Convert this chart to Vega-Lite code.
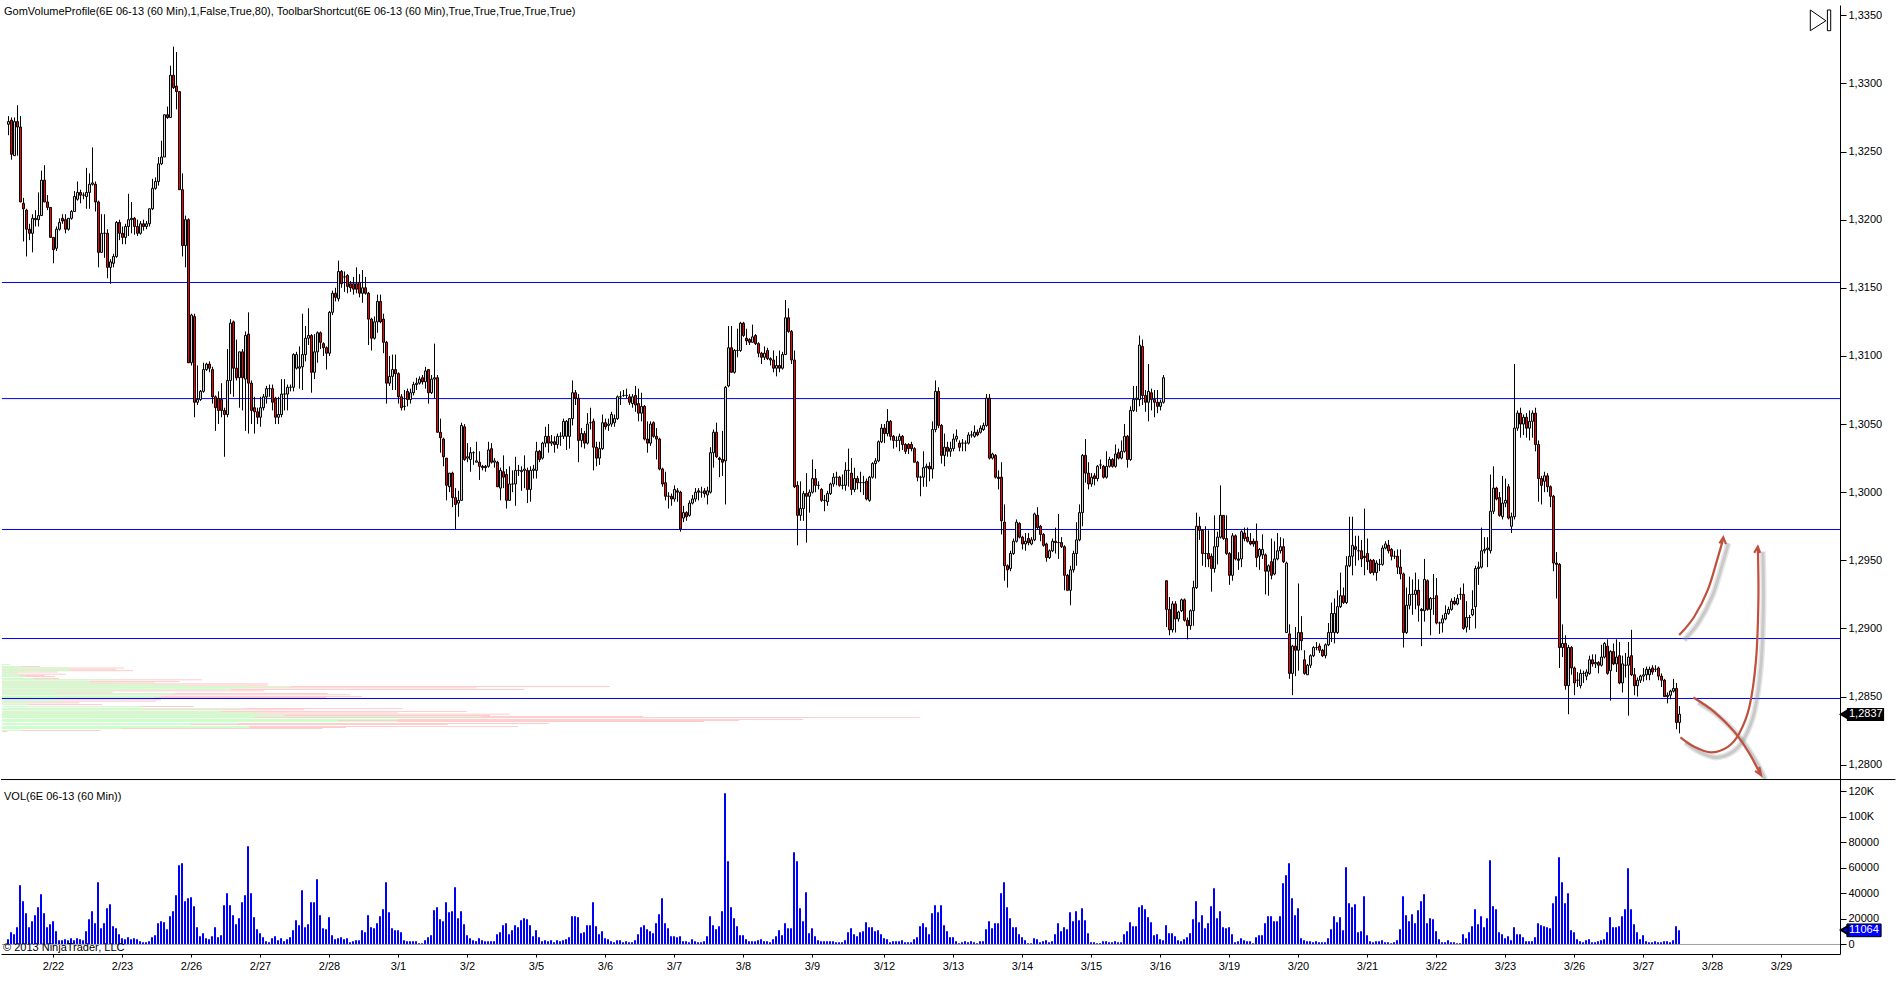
{"$schema":"https://vega.github.io/schema/vega-lite/v6.json","background":"white","padding":{"left":0,"top":5,"right":0,"bottom":0},"autosize":{"type":"pad"},"spacing":0,"bounds":"flush",
"config":{"view":{"stroke":null},"text":{"font":"Liberation Sans","fontSize":11},"axis":{"grid":false,"title":null,"domainColor":"#000","tickColor":"#000","labelColor":"#000","labelFont":"Liberation Sans","labelFontSize":11,"labelOverlap":false,"labelFlush":false}},
"datasets":{
"bars":[
{"t":0,"o":13270,"h":13276,"l":13262,"c":13272,"v":3.9},{"t":1,"o":13273,"h":13275,"l":13244,"c":13248,"v":9.4},{"t":2,"o":13247,"h":13275,"l":13247,"c":13272,"v":7.8},{"t":3,"o":13272,"h":13284,"l":13247,"c":13268,"v":13.3},{"t":4,"o":13268,"h":13276,"l":13213,"c":13213,"v":46.2},{"t":5,"o":13212,"h":13216,"l":13184,"c":13208,"v":33.7},{"t":6,"o":13207,"h":13208,"l":13173,"c":13193,"v":24.3},{"t":7,"o":13193,"h":13197,"l":13185,"c":13190,"v":13.3},{"t":8,"o":13190,"h":13204,"l":13176,"c":13201,"v":18},{"t":9,"o":13201,"h":13207,"l":13195,"c":13200,"v":22.7},
{"t":10,"o":13200,"h":13220,"l":13195,"c":13203,"v":29},{"t":11,"o":13203,"h":13236,"l":13203,"c":13229,"v":39.2},{"t":12,"o":13229,"h":13240,"l":13213,"c":13213,"v":24.3},{"t":13,"o":13213,"h":13218,"l":13207,"c":13209,"v":13.3},{"t":14,"o":13209,"h":13209,"l":13187,"c":13187,"v":15.7},{"t":15,"o":13187,"h":13187,"l":13168,"c":13178,"v":18},{"t":16,"o":13179,"h":13195,"l":13177,"c":13193,"v":10.2},{"t":17,"o":13193,"h":13201,"l":13192,"c":13198,"v":3.1},{"t":18,"o":13201,"h":13204,"l":13197,"c":13199,"v":3.1},{"t":19,"o":13200,"h":13204,"l":13190,"c":13193,"v":3.9},
{"t":20,"o":13193,"h":13201,"l":13192,"c":13201,"v":3.1},{"t":21,"o":13201,"h":13207,"l":13200,"c":13206,"v":4.7},{"t":22,"o":13206,"h":13221,"l":13206,"c":13217,"v":3.1},{"t":23,"o":13215,"h":13228,"l":13214,"c":13220,"v":4.7},{"t":24,"o":13220,"h":13222,"l":13212,"c":13218,"v":3.9},{"t":25,"o":13218,"h":13220,"l":13215,"c":13218,"v":3.1},{"t":26,"o":13217,"h":13238,"l":13208,"c":13220,"v":10.2},{"t":27,"o":13220,"h":13234,"l":13208,"c":13226,"v":19.6},{"t":28,"o":13226,"h":13253,"l":13225,"c":13227,"v":25.8},{"t":29,"o":13226,"h":13228,"l":13206,"c":13213,"v":16.4},
{"t":30,"o":13213,"h":13214,"l":13165,"c":13176,"v":48.5},{"t":31,"o":13176,"h":13204,"l":13176,"c":13190,"v":12.5},{"t":32,"o":13190,"h":13204,"l":13172,"c":13190,"v":16.4},{"t":33,"o":13190,"h":13193,"l":13157,"c":13165,"v":28.2},{"t":34,"o":13165,"h":13171,"l":13153,"c":13169,"v":31.3},{"t":35,"o":13168,"h":13175,"l":13165,"c":13173,"v":14.1},{"t":36,"o":13173,"h":13199,"l":13172,"c":13198,"v":12.5},{"t":37,"o":13198,"h":13200,"l":13185,"c":13190,"v":7.8},{"t":38,"o":13190,"h":13195,"l":13182,"c":13187,"v":4.7},{"t":39,"o":13187,"h":13197,"l":13182,"c":13195,"v":3.9},
{"t":40,"o":13195,"h":13219,"l":13188,"c":13200,"v":5.5},{"t":41,"o":13200,"h":13213,"l":13190,"c":13201,"v":3.9},{"t":42,"o":13201,"h":13202,"l":13189,"c":13195,"v":4.7},{"t":43,"o":13195,"h":13200,"l":13188,"c":13190,"v":3.9},{"t":44,"o":13190,"h":13199,"l":13189,"c":13197,"v":2.3},{"t":45,"o":13197,"h":13200,"l":13192,"c":13195,"v":1.6},{"t":46,"o":13195,"h":13199,"l":13193,"c":13197,"v":1.6},{"t":47,"o":13197,"h":13208,"l":13195,"c":13208,"v":2.3},{"t":48,"o":13208,"h":13230,"l":13207,"c":13223,"v":5.5},{"t":49,"o":13223,"h":13231,"l":13222,"c":13228,"v":7},
{"t":50,"o":13228,"h":13246,"l":13225,"c":13241,"v":16.4},{"t":51,"o":13241,"h":13258,"l":13240,"c":13246,"v":18},{"t":52,"o":13246,"h":13277,"l":13246,"c":13277,"v":17.2},{"t":53,"o":13277,"h":13283,"l":13274,"c":13275,"v":11.7},{"t":54,"o":13275,"h":13313,"l":13275,"c":13306,"v":21.9},{"t":55,"o":13306,"h":13327,"l":13296,"c":13297,"v":25.8},{"t":56,"o":13298,"h":13323,"l":13281,"c":13294,"v":38.4},{"t":57,"o":13294,"h":13294,"l":13222,"c":13222,"v":61.9},{"t":58,"o":13222,"h":13234,"l":13173,"c":13181,"v":63.4},{"t":59,"o":13181,"h":13203,"l":13165,"c":13200,"v":33.7},
{"t":60,"o":13200,"h":13201,"l":13095,"c":13095,"v":36},{"t":61,"o":13095,"h":13131,"l":13093,"c":13130,"v":36.8},{"t":62,"o":13129,"h":13131,"l":13055,"c":13066,"v":29.8},{"t":63,"o":13066,"h":13093,"l":13064,"c":13068,"v":13.3},{"t":64,"o":13068,"h":13075,"l":13067,"c":13074,"v":6.3},{"t":65,"o":13074,"h":13095,"l":13073,"c":13090,"v":8.6},{"t":66,"o":13090,"h":13095,"l":13089,"c":13094,"v":4.7},{"t":67,"o":13094,"h":13096,"l":13088,"c":13091,"v":3.9},{"t":68,"o":13090,"h":13092,"l":13065,"c":13070,"v":6.3},{"t":69,"o":13070,"h":13071,"l":13045,"c":13062,"v":13.3},
{"t":70,"o":13069,"h":13074,"l":13050,"c":13060,"v":5.5},{"t":71,"o":13068,"h":13080,"l":13055,"c":13060,"v":7},{"t":72,"o":13060,"h":13062,"l":13026,"c":13057,"v":30.5},{"t":73,"o":13057,"h":13105,"l":13055,"c":13082,"v":39.9},{"t":74,"o":13082,"h":13127,"l":13072,"c":13124,"v":30.5},{"t":75,"o":13125,"h":13126,"l":13070,"c":13091,"v":22.7},{"t":76,"o":13091,"h":13112,"l":13082,"c":13084,"v":15.7},{"t":77,"o":13084,"h":13103,"l":13062,"c":13103,"v":20.4},{"t":78,"o":13103,"h":13105,"l":13060,"c":13084,"v":32.9},{"t":79,"o":13083,"h":13118,"l":13045,"c":13115,"v":38.4},
{"t":80,"o":13116,"h":13132,"l":13043,"c":13080,"v":76.7},{"t":81,"o":13080,"h":13082,"l":13050,"c":13060,"v":39.9},{"t":82,"o":13062,"h":13070,"l":13043,"c":13059,"v":21.1},{"t":83,"o":13059,"h":13062,"l":13050,"c":13055,"v":11.7},{"t":84,"o":13055,"h":13070,"l":13048,"c":13062,"v":8.6},{"t":85,"o":13062,"h":13072,"l":13060,"c":13070,"v":5.5},{"t":86,"o":13070,"h":13078,"l":13065,"c":13076,"v":2.3},{"t":87,"o":13076,"h":13079,"l":13070,"c":13076,"v":1.6},{"t":88,"o":13076,"h":13079,"l":13060,"c":13066,"v":4.7},{"t":89,"o":13069,"h":13070,"l":13050,"c":13055,"v":6.3},
{"t":90,"o":13055,"h":13070,"l":13050,"c":13057,"v":3.1},{"t":91,"o":13057,"h":13083,"l":13055,"c":13072,"v":4.7},{"t":92,"o":13072,"h":13083,"l":13060,"c":13072,"v":2.3},{"t":93,"o":13072,"h":13079,"l":13060,"c":13077,"v":3.9},{"t":94,"o":13077,"h":13079,"l":13074,"c":13077,"v":5.5},{"t":95,"o":13077,"h":13102,"l":13074,"c":13101,"v":11},{"t":96,"o":13091,"h":13103,"l":13090,"c":13101,"v":18.8},{"t":97,"o":13091,"h":13107,"l":13076,"c":13092,"v":14.9},{"t":98,"o":13092,"h":13131,"l":13075,"c":13101,"v":42.3},{"t":99,"o":13101,"h":13122,"l":13096,"c":13113,"v":13.3},
{"t":100,"o":13113,"h":13135,"l":13108,"c":13115,"v":15.7},{"t":101,"o":13115,"h":13116,"l":13073,"c":13088,"v":32.9},{"t":102,"o":13088,"h":13116,"l":13083,"c":13103,"v":32.9},{"t":103,"o":13103,"h":13118,"l":13095,"c":13117,"v":50.9},{"t":104,"o":13117,"h":13118,"l":13105,"c":13110,"v":22.7},{"t":105,"o":13109,"h":13110,"l":13100,"c":13106,"v":12.5},{"t":106,"o":13106,"h":13107,"l":13090,"c":13102,"v":11.7},{"t":107,"o":13102,"h":13133,"l":13100,"c":13132,"v":21.1},{"t":108,"o":13132,"h":13148,"l":13130,"c":13146,"v":7},{"t":109,"o":13146,"h":13150,"l":13140,"c":13143,"v":3.9},
{"t":110,"o":13142,"h":13170,"l":13140,"c":13162,"v":4.7},{"t":111,"o":13162,"h":13163,"l":13150,"c":13153,"v":5.5},{"t":112,"o":13158,"h":13162,"l":13147,"c":13158,"v":3.9},{"t":113,"o":13159,"h":13160,"l":13146,"c":13151,"v":4.7},{"t":114,"o":13153,"h":13155,"l":13147,"c":13150,"v":1.6},{"t":115,"o":13153,"h":13158,"l":13145,"c":13149,"v":2.3},{"t":116,"o":13153,"h":13165,"l":13146,"c":13149,"v":3.1},{"t":117,"o":13154,"h":13160,"l":13143,"c":13146,"v":3.1},{"t":118,"o":13146,"h":13163,"l":13139,"c":13150,"v":11},{"t":119,"o":13150,"h":13158,"l":13145,"c":13146,"v":9.4},
{"t":120,"o":13146,"h":13147,"l":13108,"c":13127,"v":22.7},{"t":121,"o":13127,"h":13128,"l":13104,"c":13113,"v":13.3},{"t":122,"o":13113,"h":13129,"l":13112,"c":13125,"v":12.5},{"t":123,"o":13125,"h":13145,"l":13117,"c":13140,"v":16.4},{"t":124,"o":13140,"h":13145,"l":13124,"c":13125,"v":21.9},{"t":125,"o":13127,"h":13131,"l":13102,"c":13110,"v":27.4},{"t":126,"o":13110,"h":13111,"l":13065,"c":13080,"v":48.5},{"t":127,"o":13080,"h":13100,"l":13078,"c":13085,"v":25},{"t":128,"o":13085,"h":13101,"l":13075,"c":13090,"v":12.5},{"t":129,"o":13090,"h":13101,"l":13075,"c":13087,"v":11},
{"t":130,"o":13087,"h":13088,"l":13065,"c":13070,"v":11},{"t":131,"o":13070,"h":13072,"l":13060,"c":13062,"v":9.4},{"t":132,"o":13063,"h":13075,"l":13060,"c":13063,"v":3.1},{"t":133,"o":13074,"h":13076,"l":13063,"c":13068,"v":2.3},{"t":134,"o":13068,"h":13076,"l":13065,"c":13073,"v":2.3},{"t":135,"o":13073,"h":13081,"l":13071,"c":13079,"v":2.3},{"t":136,"o":13079,"h":13084,"l":13075,"c":13080,"v":2.3},{"t":137,"o":13080,"h":13085,"l":13079,"c":13083,"v":0.8},{"t":138,"o":13084,"h":13086,"l":13079,"c":13081,"v":0.8},{"t":139,"o":13081,"h":13092,"l":13076,"c":13089,"v":3.1},
{"t":140,"o":13090,"h":13090,"l":13065,"c":13073,"v":5.5},{"t":141,"o":13073,"h":13086,"l":13072,"c":13083,"v":7},{"t":142,"o":13083,"h":13109,"l":13069,"c":13084,"v":26.6},{"t":143,"o":13084,"h":13086,"l":13044,"c":13044,"v":29},{"t":144,"o":13044,"h":13054,"l":13029,"c":13040,"v":19.6},{"t":145,"o":13039,"h":13040,"l":13019,"c":13026,"v":18},{"t":146,"o":13025,"h":13025,"l":12994,"c":13005,"v":32.9},{"t":147,"o":13004,"h":13014,"l":13000,"c":13014,"v":25},{"t":148,"o":13014,"h":13015,"l":12989,"c":12996,"v":25.8},{"t":149,"o":12996,"h":13003,"l":12973,"c":12991,"v":44.6},
{"t":150,"o":12992,"h":13001,"l":12982,"c":12994,"v":20.4},{"t":151,"o":12994,"h":13051,"l":12994,"c":13049,"v":25.8},{"t":152,"o":13048,"h":13050,"l":13023,"c":13024,"v":15.7},{"t":153,"o":13025,"h":13036,"l":13022,"c":13026,"v":7},{"t":154,"o":13024,"h":13033,"l":13015,"c":13029,"v":4.7},{"t":155,"o":13029,"h":13030,"l":13020,"c":13029,"v":3.1},{"t":156,"o":13022,"h":13037,"l":13022,"c":13023,"v":2.3},{"t":157,"o":13022,"h":13030,"l":13009,"c":13019,"v":4.7},{"t":158,"o":13019,"h":13020,"l":13016,"c":13018,"v":3.1},{"t":159,"o":13019,"h":13020,"l":13015,"c":13018,"v":2.3},
{"t":160,"o":13019,"h":13037,"l":13018,"c":13031,"v":2.3},{"t":161,"o":13032,"h":13036,"l":13021,"c":13022,"v":2.3},{"t":162,"o":13022,"h":13025,"l":13018,"c":13023,"v":2.3},{"t":163,"o":13022,"h":13023,"l":13004,"c":13004,"v":7.8},{"t":164,"o":13003,"h":13018,"l":12994,"c":13016,"v":9.4},{"t":165,"o":13015,"h":13027,"l":13003,"c":13011,"v":14.9},{"t":166,"o":13013,"h":13017,"l":12988,"c":12994,"v":16.4},{"t":167,"o":12994,"h":13019,"l":12995,"c":13006,"v":7.8},{"t":168,"o":13006,"h":13016,"l":13000,"c":13006,"v":11},{"t":169,"o":13006,"h":13026,"l":12990,"c":13016,"v":14.9},
{"t":170,"o":13016,"h":13020,"l":13012,"c":13016,"v":13.3},{"t":171,"o":13015,"h":13019,"l":13001,"c":13016,"v":18.8},{"t":172,"o":13016,"h":13027,"l":13003,"c":13017,"v":20.4},{"t":173,"o":13016,"h":13018,"l":12992,"c":13002,"v":19.6},{"t":174,"o":13002,"h":13019,"l":12993,"c":13016,"v":14.9},{"t":175,"o":13016,"h":13020,"l":13010,"c":13017,"v":6.3},{"t":176,"o":13016,"h":13037,"l":13010,"c":13030,"v":11},{"t":177,"o":13030,"h":13031,"l":13022,"c":13024,"v":5.5},{"t":178,"o":13025,"h":13037,"l":13024,"c":13036,"v":2.3},{"t":179,"o":13036,"h":13048,"l":13033,"c":13041,"v":3.1},
{"t":180,"o":13041,"h":13050,"l":13029,"c":13036,"v":2.3},{"t":181,"o":13036,"h":13042,"l":13034,"c":13037,"v":3.1},{"t":182,"o":13037,"h":13041,"l":13029,"c":13035,"v":1.6},{"t":183,"o":13035,"h":13043,"l":13032,"c":13041,"v":3.1},{"t":184,"o":13041,"h":13044,"l":13034,"c":13041,"v":2.3},{"t":185,"o":13041,"h":13054,"l":13039,"c":13052,"v":3.1},{"t":186,"o":13041,"h":13053,"l":13031,"c":13052,"v":3.9},{"t":187,"o":13041,"h":13054,"l":13032,"c":13054,"v":5.5},{"t":188,"o":13054,"h":13082,"l":13049,"c":13073,"v":21.9},{"t":189,"o":13073,"h":13075,"l":13064,"c":13069,"v":21.9},
{"t":190,"o":13069,"h":13072,"l":13022,"c":13038,"v":21.1},{"t":191,"o":13038,"h":13047,"l":13033,"c":13043,"v":8.6},{"t":192,"o":13043,"h":13045,"l":13032,"c":13036,"v":9.4},{"t":193,"o":13036,"h":13058,"l":13035,"c":13050,"v":14.9},{"t":194,"o":13051,"h":13062,"l":13046,"c":13051,"v":14.9},{"t":195,"o":13052,"h":13054,"l":13016,"c":13033,"v":32.9},{"t":196,"o":13033,"h":13037,"l":13019,"c":13025,"v":14.1},{"t":197,"o":13025,"h":13037,"l":13020,"c":13032,"v":7.8},{"t":198,"o":13032,"h":13057,"l":13031,"c":13051,"v":10.2},{"t":199,"o":13051,"h":13054,"l":13046,"c":13048,"v":4.7},
{"t":200,"o":13049,"h":13054,"l":13045,"c":13050,"v":3.9},{"t":201,"o":13050,"h":13059,"l":13048,"c":13057,"v":2.3},{"t":202,"o":13051,"h":13057,"l":13048,"c":13054,"v":1.6},{"t":203,"o":13054,"h":13071,"l":13053,"c":13070,"v":3.1},{"t":204,"o":13070,"h":13074,"l":13064,"c":13070,"v":3.1},{"t":205,"o":13071,"h":13075,"l":13070,"c":13071,"v":1.6},{"t":206,"o":13071,"h":13076,"l":13069,"c":13071,"v":2.3},{"t":207,"o":13070,"h":13072,"l":13064,"c":13066,"v":1.6},{"t":208,"o":13065,"h":13072,"l":13062,"c":13070,"v":1.6},{"t":209,"o":13071,"h":13078,"l":13059,"c":13064,"v":3.1},
{"t":210,"o":13065,"h":13076,"l":13052,"c":13058,"v":7.8},{"t":211,"o":13058,"h":13073,"l":13052,"c":13063,"v":13.3},{"t":212,"o":13063,"h":13064,"l":13038,"c":13039,"v":14.9},{"t":213,"o":13039,"h":13052,"l":13029,"c":13036,"v":11.7},{"t":214,"o":13036,"h":13052,"l":13034,"c":13050,"v":10.2},{"t":215,"o":13051,"h":13052,"l":13040,"c":13041,"v":8.6},{"t":216,"o":13041,"h":13047,"l":13024,"c":13039,"v":16.4},{"t":217,"o":13039,"h":13040,"l":13016,"c":13017,"v":23.5},{"t":218,"o":13017,"h":13018,"l":13004,"c":13006,"v":36},{"t":219,"o":13007,"h":13015,"l":12994,"c":12997,"v":16.4},
{"t":220,"o":12997,"h":13000,"l":12988,"c":12997,"v":12.5},{"t":221,"o":12997,"h":12999,"l":12990,"c":12995,"v":6.3},{"t":222,"o":12995,"h":13005,"l":12993,"c":13002,"v":6.3},{"t":223,"o":13001,"h":13003,"l":12993,"c":13000,"v":5.5},{"t":224,"o":13000,"h":13001,"l":12971,"c":12973,"v":6.3},{"t":225,"o":12981,"h":12990,"l":12978,"c":12985,"v":2.3},{"t":226,"o":12985,"h":12986,"l":12979,"c":12982,"v":2.3},{"t":227,"o":12983,"h":12994,"l":12982,"c":12992,"v":1.6},{"t":228,"o":12992,"h":12998,"l":12991,"c":12995,"v":3.9},{"t":229,"o":12995,"h":13003,"l":12993,"c":13000,"v":2.3},
{"t":230,"o":13001,"h":13003,"l":12994,"c":13000,"v":1.6},{"t":231,"o":13000,"h":13004,"l":12996,"c":13000,"v":1.6},{"t":232,"o":13001,"h":13003,"l":12996,"c":12999,"v":2.3},{"t":233,"o":12998,"h":13004,"l":12991,"c":13001,"v":6.3},{"t":234,"o":13000,"h":13033,"l":12999,"c":13029,"v":21.9},{"t":235,"o":13029,"h":13046,"l":13018,"c":13044,"v":14.9},{"t":236,"o":13044,"h":13051,"l":13025,"c":13026,"v":11.7},{"t":237,"o":13025,"h":13026,"l":13011,"c":13024,"v":14.1},{"t":238,"o":13024,"h":13045,"l":13012,"c":13022,"v":25.8},{"t":239,"o":13023,"h":13078,"l":12991,"c":13077,"v":118.2},
{"t":240,"o":13078,"h":13122,"l":13077,"c":13106,"v":65},{"t":241,"o":13106,"h":13122,"l":13088,"c":13088,"v":29},{"t":242,"o":13088,"h":13105,"l":13087,"c":13104,"v":20.4},{"t":243,"o":13104,"h":13120,"l":13099,"c":13104,"v":14.1},{"t":244,"o":13104,"h":13125,"l":13103,"c":13124,"v":7},{"t":245,"o":13124,"h":13125,"l":13114,"c":13115,"v":7},{"t":246,"o":13113,"h":13120,"l":13108,"c":13111,"v":3.9},{"t":247,"o":13112,"h":13113,"l":13108,"c":13110,"v":2.3},{"t":248,"o":13110,"h":13123,"l":13110,"c":13114,"v":2.3},{"t":249,"o":13115,"h":13116,"l":13108,"c":13109,"v":2.3},
{"t":250,"o":13109,"h":13110,"l":13099,"c":13102,"v":3.1},{"t":251,"o":13102,"h":13103,"l":13094,"c":13099,"v":3.9},{"t":252,"o":13099,"h":13107,"l":13097,"c":13102,"v":2.3},{"t":253,"o":13104,"h":13106,"l":13097,"c":13098,"v":2.3},{"t":254,"o":13098,"h":13099,"l":13093,"c":13097,"v":1.6},{"t":255,"o":13097,"h":13104,"l":13088,"c":13091,"v":3.9},{"t":256,"o":13091,"h":13100,"l":13085,"c":13093,"v":6.3},{"t":257,"o":13093,"h":13104,"l":13088,"c":13091,"v":11},{"t":258,"o":13091,"h":13103,"l":13090,"c":13101,"v":7},{"t":259,"o":13101,"h":13141,"l":13101,"c":13128,"v":16.4},
{"t":260,"o":13128,"h":13135,"l":13117,"c":13118,"v":12.5},{"t":261,"o":13118,"h":13119,"l":13094,"c":13097,"v":12.5},{"t":262,"o":13097,"h":13104,"l":13003,"c":13004,"v":72},{"t":263,"o":13005,"h":13008,"l":12961,"c":12983,"v":65},{"t":264,"o":12983,"h":13008,"l":12979,"c":12988,"v":28.2},{"t":265,"o":12988,"h":13001,"l":12979,"c":12999,"v":18},{"t":266,"o":12999,"h":13014,"l":12963,"c":12997,"v":40.7},{"t":267,"o":12997,"h":13002,"l":12985,"c":13000,"v":8.6},{"t":268,"o":13000,"h":13024,"l":12999,"c":13010,"v":12.5},{"t":269,"o":13010,"h":13017,"l":13000,"c":13005,"v":6.3},
{"t":270,"o":13005,"h":13008,"l":13002,"c":13005,"v":3.1},{"t":271,"o":13002,"h":13003,"l":12993,"c":12994,"v":2.3},{"t":272,"o":12994,"h":12998,"l":12986,"c":12994,"v":2.3},{"t":273,"o":12993,"h":13001,"l":12990,"c":12999,"v":2.3},{"t":274,"o":12999,"h":13007,"l":12998,"c":13006,"v":2.3},{"t":275,"o":13006,"h":13014,"l":13004,"c":13011,"v":2.3},{"t":276,"o":13011,"h":13015,"l":13005,"c":13011,"v":1.6},{"t":277,"o":13011,"h":13012,"l":13004,"c":13005,"v":1.6},{"t":278,"o":13005,"h":13013,"l":13002,"c":13005,"v":1.6},{"t":279,"o":13005,"h":13022,"l":13001,"c":13016,"v":3.1},
{"t":280,"o":13016,"h":13032,"l":13004,"c":13016,"v":9.4},{"t":281,"o":13014,"h":13025,"l":12998,"c":13002,"v":12.5},{"t":282,"o":13002,"h":13018,"l":13000,"c":13010,"v":7.8},{"t":283,"o":13010,"h":13012,"l":13002,"c":13007,"v":6.3},{"t":284,"o":13007,"h":13015,"l":13000,"c":13007,"v":9.4},{"t":285,"o":13007,"h":13012,"l":12998,"c":13007,"v":10.2},{"t":286,"o":13008,"h":13010,"l":12994,"c":12995,"v":17.2},{"t":287,"o":12994,"h":13012,"l":12993,"c":13011,"v":13.3},{"t":288,"o":13011,"h":13022,"l":13010,"c":13021,"v":13.3},{"t":289,"o":13021,"h":13025,"l":13010,"c":13023,"v":10.2},
{"t":290,"o":13023,"h":13038,"l":13022,"c":13037,"v":11},{"t":291,"o":13037,"h":13050,"l":13036,"c":13047,"v":7.8},{"t":292,"o":13047,"h":13050,"l":13036,"c":13043,"v":4.7},{"t":293,"o":13043,"h":13061,"l":13041,"c":13052,"v":3.9},{"t":294,"o":13052,"h":13053,"l":13038,"c":13041,"v":1.6},{"t":295,"o":13041,"h":13042,"l":13032,"c":13038,"v":2.3},{"t":296,"o":13038,"h":13041,"l":13033,"c":13038,"v":2.3},{"t":297,"o":13038,"h":13043,"l":13030,"c":13041,"v":2.3},{"t":298,"o":13041,"h":13042,"l":13031,"c":13035,"v":3.1},{"t":299,"o":13035,"h":13036,"l":13028,"c":13030,"v":1.6},
{"t":300,"o":13035,"h":13036,"l":13028,"c":13032,"v":1.6},{"t":301,"o":13035,"h":13037,"l":13030,"c":13032,"v":1.6},{"t":302,"o":13032,"h":13033,"l":13022,"c":13022,"v":3.9},{"t":303,"o":13022,"h":13023,"l":13008,"c":13011,"v":5.5},{"t":304,"o":13011,"h":13012,"l":12997,"c":13011,"v":14.1},{"t":305,"o":13011,"h":13030,"l":13004,"c":13018,"v":16.4},{"t":306,"o":13018,"h":13021,"l":13004,"c":13019,"v":13.3},{"t":307,"o":13019,"h":13022,"l":13008,"c":13017,"v":7.8},{"t":308,"o":13017,"h":13052,"l":13010,"c":13046,"v":24.3},{"t":309,"o":13046,"h":13082,"l":13044,"c":13074,"v":30.5},
{"t":310,"o":13074,"h":13077,"l":13047,"c":13049,"v":25},{"t":311,"o":13049,"h":13050,"l":13021,"c":13027,"v":30.5},{"t":312,"o":13027,"h":13043,"l":13019,"c":13033,"v":14.9},{"t":313,"o":13033,"h":13037,"l":13026,"c":13030,"v":10.2},{"t":314,"o":13030,"h":13037,"l":13026,"c":13032,"v":5.5},{"t":315,"o":13032,"h":13043,"l":13030,"c":13039,"v":5.5},{"t":316,"o":13039,"h":13046,"l":13037,"c":13041,"v":2.3},{"t":317,"o":13036,"h":13038,"l":13030,"c":13033,"v":0.8},{"t":318,"o":13036,"h":13039,"l":13030,"c":13036,"v":1.6},{"t":319,"o":13036,"h":13038,"l":13030,"c":13036,"v":2.3},
{"t":320,"o":13036,"h":13044,"l":13035,"c":13042,"v":1.6},{"t":321,"o":13042,"h":13045,"l":13040,"c":13042,"v":2.3},{"t":322,"o":13041,"h":13049,"l":13040,"c":13044,"v":1.6},{"t":323,"o":13044,"h":13046,"l":13041,"c":13042,"v":0.8},{"t":324,"o":13044,"h":13049,"l":13043,"c":13047,"v":2.3},{"t":325,"o":13046,"h":13051,"l":13045,"c":13049,"v":2.3},{"t":326,"o":13049,"h":13072,"l":13048,"c":13069,"v":11.7},{"t":327,"o":13069,"h":13072,"l":13024,"c":13025,"v":18},{"t":328,"o":13025,"h":13029,"l":13024,"c":13028,"v":12.5},{"t":329,"o":13027,"h":13028,"l":13010,"c":13011,"v":16.4},
{"t":330,"o":13011,"h":13016,"l":13002,"c":13010,"v":16.4},{"t":331,"o":13011,"h":13022,"l":12969,"c":12979,"v":39.9},{"t":332,"o":12978,"h":12991,"l":12935,"c":12946,"v":48.5},{"t":333,"o":12946,"h":12947,"l":12930,"c":12943,"v":29},{"t":334,"o":12944,"h":12957,"l":12942,"c":12955,"v":20.4},{"t":335,"o":12955,"h":12966,"l":12954,"c":12964,"v":13.3},{"t":336,"o":12964,"h":12980,"l":12963,"c":12978,"v":13.3},{"t":337,"o":12977,"h":12978,"l":12966,"c":12967,"v":7.8},{"t":338,"o":12967,"h":12968,"l":12958,"c":12962,"v":5.5},{"t":339,"o":12962,"h":12970,"l":12957,"c":12964,"v":3.1},
{"t":340,"o":12966,"h":12970,"l":12961,"c":12963,"v":0.8},{"t":341,"o":12962,"h":12967,"l":12961,"c":12965,"v":0.8},{"t":342,"o":12965,"h":12985,"l":12964,"c":12984,"v":4.7},{"t":343,"o":12983,"h":12989,"l":12973,"c":12974,"v":3.9},{"t":344,"o":12975,"h":12976,"l":12964,"c":12969,"v":1.6},{"t":345,"o":12969,"h":12970,"l":12960,"c":12961,"v":2.3},{"t":346,"o":12962,"h":12963,"l":12949,"c":12952,"v":3.1},{"t":347,"o":12952,"h":12958,"l":12951,"c":12957,"v":1.6},{"t":348,"o":12957,"h":12966,"l":12956,"c":12964,"v":2.3},{"t":349,"o":12964,"h":12974,"l":12955,"c":12963,"v":7.8},
{"t":350,"o":12963,"h":12984,"l":12951,"c":12963,"v":16.4},{"t":351,"o":12963,"h":12967,"l":12959,"c":12960,"v":10.2},{"t":352,"o":12960,"h":12961,"l":12928,"c":12939,"v":13.3},{"t":353,"o":12939,"h":12940,"l":12928,"c":12928,"v":11.7},{"t":354,"o":12928,"h":12946,"l":12917,"c":12943,"v":25},{"t":355,"o":12943,"h":12957,"l":12941,"c":12955,"v":18},{"t":356,"o":12955,"h":12978,"l":12946,"c":12965,"v":25.8},{"t":357,"o":12965,"h":12991,"l":12964,"c":12985,"v":18.8},{"t":358,"o":12985,"h":13028,"l":12975,"c":13027,"v":28.2},{"t":359,"o":13027,"h":13039,"l":13007,"c":13014,"v":18.8},
{"t":360,"o":13014,"h":13022,"l":13002,"c":13006,"v":8.6},{"t":361,"o":13006,"h":13014,"l":13004,"c":13011,"v":1.6},{"t":362,"o":13012,"h":13014,"l":13005,"c":13010,"v":1.6},{"t":363,"o":13010,"h":13020,"l":13008,"c":13019,"v":0.8},{"t":364,"o":13020,"h":13024,"l":13017,"c":13020,"v":0.8},{"t":365,"o":13019,"h":13020,"l":13010,"c":13011,"v":2.3},{"t":366,"o":13011,"h":13030,"l":13010,"c":13019,"v":2.3},{"t":367,"o":13019,"h":13026,"l":13018,"c":13024,"v":1.6},{"t":368,"o":13024,"h":13025,"l":13018,"c":13019,"v":1.6},{"t":369,"o":13019,"h":13035,"l":13018,"c":13028,"v":2.3},
{"t":370,"o":13029,"h":13032,"l":13024,"c":13025,"v":1.6},{"t":371,"o":13025,"h":13038,"l":13024,"c":13030,"v":1.6},{"t":372,"o":13030,"h":13050,"l":13029,"c":13041,"v":7.8},{"t":373,"o":13041,"h":13042,"l":13018,"c":13024,"v":10.2},{"t":374,"o":13024,"h":13063,"l":13023,"c":13060,"v":17.2},{"t":375,"o":13060,"h":13078,"l":13059,"c":13068,"v":14.1},{"t":376,"o":13068,"h":13078,"l":13059,"c":13069,"v":14.1},{"t":377,"o":13068,"h":13115,"l":13063,"c":13108,"v":29},{"t":378,"o":13107,"h":13112,"l":13064,"c":13071,"v":30.5},{"t":379,"o":13071,"h":13075,"l":13059,"c":13066,"v":27.4},
{"t":380,"o":13066,"h":13094,"l":13052,"c":13074,"v":21.1},{"t":381,"o":13073,"h":13076,"l":13060,"c":13068,"v":17.2},{"t":382,"o":13068,"h":13075,"l":13055,"c":13066,"v":7},{"t":383,"o":13066,"h":13075,"l":13058,"c":13063,"v":7.8},{"t":384,"o":13063,"h":13068,"l":13060,"c":13066,"v":3.9},{"t":385,"o":13066,"h":13086,"l":13065,"c":13084,"v":3.1},{"t":386,"o":12935,"h":12935,"l":12901,"c":12914,"v":14.9},{"t":387,"o":12914,"h":12923,"l":12895,"c":12899,"v":8.6},{"t":388,"o":12899,"h":12920,"l":12897,"c":12918,"v":8.6},{"t":389,"o":12918,"h":12920,"l":12897,"c":12907,"v":6.3},
{"t":390,"o":12907,"h":12913,"l":12905,"c":12912,"v":3.1},{"t":391,"o":12913,"h":12922,"l":12912,"c":12921,"v":2.3},{"t":392,"o":12921,"h":12922,"l":12905,"c":12906,"v":3.9},{"t":393,"o":12906,"h":12908,"l":12892,"c":12902,"v":5.5},{"t":394,"o":12902,"h":12914,"l":12899,"c":12913,"v":8.6},{"t":395,"o":12913,"h":12935,"l":12902,"c":12930,"v":19.6},{"t":396,"o":12930,"h":12985,"l":12929,"c":12975,"v":33.7},{"t":397,"o":12975,"h":12982,"l":12965,"c":12972,"v":17.2},{"t":398,"o":12972,"h":12973,"l":12946,"c":12955,"v":22.7},{"t":399,"o":12955,"h":12975,"l":12945,"c":12955,"v":12.5},
{"t":400,"o":12955,"h":12972,"l":12945,"c":12951,"v":16.4},{"t":401,"o":12953,"h":12955,"l":12927,"c":12944,"v":29.8},{"t":402,"o":12944,"h":12983,"l":12941,"c":12960,"v":43.8},{"t":403,"o":12960,"h":12971,"l":12947,"c":12967,"v":20.4},{"t":404,"o":12967,"h":13005,"l":12966,"c":12983,"v":25.8},{"t":405,"o":12983,"h":12983,"l":12965,"c":12966,"v":13.3},{"t":406,"o":12966,"h":12983,"l":12954,"c":12955,"v":12.5},{"t":407,"o":12955,"h":12956,"l":12932,"c":12939,"v":13.3},{"t":408,"o":12939,"h":12970,"l":12935,"c":12968,"v":7.8},{"t":409,"o":12968,"h":12969,"l":12950,"c":12951,"v":1.6},
{"t":410,"o":12951,"h":12956,"l":12943,"c":12950,"v":2.3},{"t":411,"o":12951,"h":12972,"l":12945,"c":12971,"v":4.7},{"t":412,"o":12970,"h":12974,"l":12964,"c":12966,"v":3.1},{"t":413,"o":12967,"h":12974,"l":12963,"c":12964,"v":2.3},{"t":414,"o":12964,"h":12970,"l":12961,"c":12962,"v":2.3},{"t":415,"o":12964,"h":12966,"l":12960,"c":12962,"v":0.8},{"t":416,"o":12964,"h":12977,"l":12945,"c":12952,"v":5.5},{"t":417,"o":12953,"h":12959,"l":12943,"c":12958,"v":7},{"t":418,"o":12954,"h":12969,"l":12951,"c":12958,"v":7},{"t":419,"o":12954,"h":12955,"l":12925,"c":12942,"v":16.4},
{"t":420,"o":12942,"h":12947,"l":12924,"c":12946,"v":21.9},{"t":421,"o":12949,"h":12966,"l":12936,"c":12939,"v":21.9},{"t":422,"o":12940,"h":12964,"l":12939,"c":12951,"v":18},{"t":423,"o":12951,"h":12970,"l":12950,"c":12957,"v":18},{"t":424,"o":12957,"h":12967,"l":12955,"c":12960,"v":21.9},{"t":425,"o":12960,"h":12966,"l":12948,"c":12949,"v":47.8},{"t":426,"o":12897,"h":12949,"l":12897,"c":12948,"v":54},{"t":427,"o":12896,"h":12903,"l":12863,"c":12867,"v":63.4},{"t":428,"o":12867,"h":12888,"l":12851,"c":12887,"v":36},{"t":429,"o":12887,"h":12901,"l":12865,"c":12884,"v":22.7},
{"t":430,"o":12884,"h":12933,"l":12869,"c":12897,"v":28.2},{"t":431,"o":12897,"h":12909,"l":12884,"c":12891,"v":4.7},{"t":432,"o":12877,"h":12884,"l":12866,"c":12867,"v":3.1},{"t":433,"o":12866,"h":12874,"l":12866,"c":12873,"v":2.3},{"t":434,"o":12873,"h":12881,"l":12871,"c":12880,"v":2.3},{"t":435,"o":12880,"h":12887,"l":12879,"c":12886,"v":1.6},{"t":436,"o":12886,"h":12890,"l":12884,"c":12886,"v":2.3},{"t":437,"o":12887,"h":12889,"l":12882,"c":12884,"v":1.6},{"t":438,"o":12884,"h":12885,"l":12879,"c":12880,"v":1.6},{"t":439,"o":12880,"h":12889,"l":12878,"c":12888,"v":1.6},
{"t":440,"o":12888,"h":12904,"l":12887,"c":12897,"v":4.7},{"t":441,"o":12897,"h":12919,"l":12890,"c":12911,"v":11.7},{"t":442,"o":12897,"h":12922,"l":12889,"c":12911,"v":21.9},{"t":443,"o":12897,"h":12928,"l":12896,"c":12916,"v":17.2},{"t":444,"o":12916,"h":12941,"l":12915,"c":12924,"v":21.1},{"t":445,"o":12924,"h":12930,"l":12918,"c":12919,"v":11},{"t":446,"o":12919,"h":12953,"l":12918,"c":12946,"v":60.3},{"t":447,"o":12946,"h":12982,"l":12945,"c":12953,"v":32.1},{"t":448,"o":12953,"h":12982,"l":12939,"c":12961,"v":29},{"t":449,"o":12960,"h":12968,"l":12946,"c":12958,"v":31.3},
{"t":450,"o":12957,"h":12968,"l":12950,"c":12957,"v":9.4},{"t":451,"o":12957,"h":12965,"l":12945,"c":12951,"v":10.2},{"t":452,"o":12953,"h":12988,"l":12939,"c":12952,"v":37.6},{"t":453,"o":12955,"h":12966,"l":12943,"c":12949,"v":7},{"t":454,"o":12950,"h":12951,"l":12940,"c":12941,"v":2.3},{"t":455,"o":12950,"h":12951,"l":12939,"c":12941,"v":1.6},{"t":456,"o":12941,"h":12950,"l":12935,"c":12948,"v":2.3},{"t":457,"o":12947,"h":12951,"l":12942,"c":12947,"v":2.3},{"t":458,"o":12947,"h":12961,"l":12946,"c":12959,"v":3.1},{"t":459,"o":12959,"h":12964,"l":12958,"c":12962,"v":1.6},
{"t":460,"o":12961,"h":12965,"l":12955,"c":12957,"v":1.6},{"t":461,"o":12958,"h":12959,"l":12950,"c":12953,"v":0.8},{"t":462,"o":12953,"h":12957,"l":12951,"c":12953,"v":1.6},{"t":463,"o":12953,"h":12958,"l":12940,"c":12945,"v":3.1},{"t":464,"o":12945,"h":12958,"l":12936,"c":12940,"v":11.7},{"t":465,"o":12940,"h":12941,"l":12886,"c":12897,"v":37.6},{"t":466,"o":12897,"h":12930,"l":12896,"c":12917,"v":22.7},{"t":467,"o":12917,"h":12938,"l":12914,"c":12925,"v":18},{"t":468,"o":12925,"h":12936,"l":12910,"c":12925,"v":23.5},{"t":469,"o":12925,"h":12941,"l":12914,"c":12928,"v":16.4},
{"t":470,"o":12928,"h":12936,"l":12905,"c":12917,"v":26.6},{"t":471,"o":12914,"h":12915,"l":12887,"c":12913,"v":33.7},{"t":472,"o":12913,"h":12951,"l":12905,"c":12936,"v":39.2},{"t":473,"o":12935,"h":12936,"l":12913,"c":12914,"v":16.4},{"t":474,"o":12914,"h":12923,"l":12895,"c":12922,"v":20.4},{"t":475,"o":12922,"h":12940,"l":12910,"c":12922,"v":19.6},{"t":476,"o":12924,"h":12937,"l":12903,"c":12904,"v":10.2},{"t":477,"o":12904,"h":12905,"l":12896,"c":12904,"v":3.9},{"t":478,"o":12904,"h":12910,"l":12897,"c":12907,"v":1.6},{"t":479,"o":12907,"h":12917,"l":12906,"c":12911,"v":1.6},
{"t":480,"o":12911,"h":12916,"l":12910,"c":12914,"v":3.1},{"t":481,"o":12914,"h":12922,"l":12913,"c":12920,"v":1.6},{"t":482,"o":12920,"h":12923,"l":12917,"c":12918,"v":1.6},{"t":483,"o":12918,"h":12925,"l":12917,"c":12922,"v":0.8},{"t":484,"o":12925,"h":12930,"l":12921,"c":12925,"v":0.8},{"t":485,"o":12925,"h":12933,"l":12899,"c":12900,"v":7.8},{"t":486,"o":12901,"h":12920,"l":12897,"c":12908,"v":4.7},{"t":487,"o":12908,"h":12910,"l":12899,"c":12908,"v":9.4},{"t":488,"o":12910,"h":12928,"l":12909,"c":12914,"v":14.1},{"t":489,"o":12916,"h":12946,"l":12900,"c":12944,"v":27.4},
{"t":490,"o":12944,"h":12949,"l":12932,"c":12945,"v":15.7},{"t":491,"o":12945,"h":12974,"l":12944,"c":12957,"v":21.9},{"t":492,"o":12957,"h":12967,"l":12955,"c":12958,"v":13.3},{"t":493,"o":12958,"h":12967,"l":12945,"c":12959,"v":20.4},{"t":494,"o":12957,"h":13013,"l":12955,"c":12986,"v":65.8},{"t":495,"o":12986,"h":13019,"l":12984,"c":13003,"v":29.8},{"t":496,"o":13003,"h":13004,"l":12994,"c":12995,"v":27.4},{"t":497,"o":12996,"h":13000,"l":12982,"c":12983,"v":9.4},{"t":498,"o":12982,"h":13012,"l":12980,"c":12992,"v":7.8},{"t":499,"o":12992,"h":13010,"l":12989,"c":12994,"v":4.7},
{"t":500,"o":13004,"h":13006,"l":12980,"c":12981,"v":6.3},{"t":501,"o":12975,"h":12985,"l":12970,"c":12982,"v":3.1},{"t":502,"o":12982,"h":13094,"l":12980,"c":13047,"v":13.3},{"t":503,"o":13047,"h":13060,"l":13045,"c":13058,"v":7.8},{"t":504,"o":13058,"h":13062,"l":13040,"c":13050,"v":7.8},{"t":505,"o":13050,"h":13057,"l":13042,"c":13055,"v":5.5},{"t":506,"o":13055,"h":13058,"l":13040,"c":13047,"v":2.3},{"t":507,"o":13047,"h":13060,"l":13038,"c":13052,"v":2.3},{"t":508,"o":13052,"h":13060,"l":13040,"c":13058,"v":2.3},{"t":509,"o":13058,"h":13062,"l":13030,"c":13035,"v":5.5},
{"t":510,"o":13035,"h":13038,"l":12993,"c":13010,"v":16.4},{"t":511,"o":13010,"h":13012,"l":12991,"c":13005,"v":14.9},{"t":512,"o":13008,"h":13015,"l":13000,"c":13012,"v":14.1},{"t":513,"o":13012,"h":13014,"l":13000,"c":13004,"v":13.3},{"t":514,"o":13004,"h":13005,"l":12989,"c":12997,"v":12.5},{"t":515,"o":12997,"h":12998,"l":12942,"c":12948,"v":32.1},{"t":516,"o":12948,"h":12956,"l":12922,"c":12947,"v":37.6},{"t":517,"o":12947,"h":12948,"l":12871,"c":12886,"v":68.1},{"t":518,"o":12886,"h":12903,"l":12879,"c":12889,"v":48.5},{"t":519,"o":12889,"h":12895,"l":12855,"c":12858,"v":32.1},
{"t":520,"o":12858,"h":12888,"l":12837,"c":12886,"v":39.9},{"t":521,"o":12886,"h":12887,"l":12866,"c":12871,"v":11},{"t":522,"o":12871,"h":12872,"l":12851,"c":12860,"v":9.4},{"t":523,"o":12862,"h":12868,"l":12857,"c":12862,"v":3.9},{"t":524,"o":12858,"h":12870,"l":12856,"c":12867,"v":2.3},{"t":525,"o":12867,"h":12869,"l":12860,"c":12867,"v":1.6},{"t":526,"o":12865,"h":12870,"l":12862,"c":12868,"v":3.1},{"t":527,"o":12867,"h":12880,"l":12866,"c":12877,"v":3.9},{"t":528,"o":12877,"h":12881,"l":12872,"c":12874,"v":1.6},{"t":529,"o":12874,"h":12881,"l":12871,"c":12875,"v":1.6},
{"t":530,"o":12875,"h":12876,"l":12867,"c":12873,"v":2.3},{"t":531,"o":12873,"h":12888,"l":12872,"c":12879,"v":3.1},{"t":532,"o":12879,"h":12890,"l":12878,"c":12889,"v":3.9},{"t":533,"o":12887,"h":12892,"l":12866,"c":12867,"v":9.4},{"t":534,"o":12869,"h":12884,"l":12847,"c":12883,"v":21.1},{"t":535,"o":12883,"h":12889,"l":12873,"c":12874,"v":13.3},{"t":536,"o":12874,"h":12892,"l":12868,"c":12879,"v":13.3},{"t":537,"o":12880,"h":12890,"l":12859,"c":12860,"v":14.1},{"t":538,"o":12860,"h":12880,"l":12853,"c":12874,"v":21.9},{"t":539,"o":12873,"h":12882,"l":12864,"c":12873,"v":27.4},
{"t":540,"o":12873,"h":12890,"l":12836,"c":12879,"v":59.5},{"t":541,"o":12880,"h":12899,"l":12865,"c":12866,"v":27.4},{"t":542,"o":12866,"h":12871,"l":12851,"c":12858,"v":15.7},{"t":543,"o":12858,"h":12864,"l":12850,"c":12862,"v":9.4},{"t":544,"o":12862,"h":12866,"l":12860,"c":12865,"v":3.9},{"t":545,"o":12865,"h":12871,"l":12861,"c":12866,"v":7},{"t":546,"o":12866,"h":12872,"l":12862,"c":12870,"v":2.3},{"t":547,"o":12866,"h":12872,"l":12862,"c":12870,"v":1.6},{"t":548,"o":12871,"h":12873,"l":12866,"c":12868,"v":1.6},{"t":549,"o":12870,"h":12873,"l":12868,"c":12870,"v":2.3},
{"t":550,"o":12871,"h":12872,"l":12862,"c":12865,"v":1.6},{"t":551,"o":12865,"h":12867,"l":12857,"c":12862,"v":1.6},{"t":552,"o":12862,"h":12863,"l":12850,"c":12850,"v":2.3},{"t":553,"o":12850,"h":12853,"l":12845,"c":12851,"v":2.3},{"t":554,"o":12851,"h":12855,"l":12848,"c":12854,"v":1.6},{"t":555,"o":12854,"h":12863,"l":12853,"c":12856,"v":3.1},{"t":556,"o":12856,"h":12860,"l":12826,"c":12831,"v":14.1},{"t":557,"o":12831,"h":12843,"l":12823,"c":12837,"v":11.064}
],
"profile":[{"t":-2.2,"p":12873.5,"g":0.5,"r":0.5},{"t":-2.2,"p":12872,"g":4.4,"r":10.5},{"t":-2.2,"p":12871,"g":20.3,"r":38.5},{"t":-2.2,"p":12870,"g":20.8,"r":36},{"t":-2.2,"p":12869,"g":20.3,"r":41.5},{"t":-2.2,"p":12868,"g":2.5,"r":16.4},{"t":-2.2,"p":12867.4,"g":0.8,"r":2.8},{"t":-2.2,"p":12866.4,"g":7,"r":19.2},{"t":-2.2,"p":12865.5,"g":3.6,"r":12},{"t":-2.2,"p":12864.7,"g":5.8,"r":15.5},{"t":-2.2,"p":12863.3,"g":8.6,"r":16.8},{"t":-2.2,"p":12862.3,"g":35.3,"r":64.5},{"t":-2.2,"p":12861,"g":27,"r":57},{"t":-2.2,"p":12860,"g":27,"r":48.6},{"t":-2.2,"p":12859.3,"g":48.6,"r":86.5},{"t":-2.2,"p":12858.4,"g":59,"r":86.4},{"t":-2.2,"p":12857.4,"g":94,"r":200.5},{"t":-2.2,"p":12856.4,"g":80.3,"r":156},{"t":-2.2,"p":12855.2,"g":74,"r":172},{"t":-2.2,"p":12854.2,"g":35.3,"r":85.3},{"t":-2.2,"p":12853.2,"g":16.4,"r":34.7},{"t":-2.2,"p":12852.2,"g":55.3,"r":106.4},{"t":-2.2,"p":12851.3,"g":52,"r":113.8},{"t":-2.2,"p":12850,"g":50.8,"r":117.8},{"t":-2.2,"p":12849.3,"g":48.6,"r":105.8},{"t":-2.2,"p":12847.6,"g":15.8,"r":50.8},{"t":-2.2,"p":12846.6,"g":19,"r":49.2},{"t":-2.2,"p":12845.4,"g":6.4,"r":23.6},{"t":-2.2,"p":12844.2,"g":6.4,"r":31.2},{"t":-2.2,"p":12842.7,"g":44,"r":61.8},{"t":-2.2,"p":12841.2,"g":78.6,"r":131.4},{"t":-2.2,"p":12840.3,"g":45.3,"r":98.6},{"t":-2.2,"p":12839,"g":70.8,"r":152.8},{"t":-2.2,"p":12838,"g":84.7,"r":129.7},{"t":-2.2,"p":12837.1,"g":83,"r":167},{"t":-2.2,"p":12836.1,"g":92,"r":160.5},{"t":-2.2,"p":12835.4,"g":157.5,"r":211.5},{"t":-2.2,"p":12834.6,"g":82,"r":303.8},{"t":-2.2,"p":12833.2,"g":129.7,"r":264.8},{"t":-2.2,"p":12832.4,"g":109.7,"r":243.5},{"t":-2.2,"p":12831.7,"g":129.7,"r":231.8},{"t":-2.2,"p":12830.2,"g":76.4,"r":180.2},{"t":-2.2,"p":12829.5,"g":60.8,"r":146.4},{"t":-2.2,"p":12828,"g":80.3,"r":169.8},{"t":-2.2,"p":12827.3,"g":80.3,"r":112.5},{"t":-2.2,"p":12826.6,"g":37.5,"r":104.7},{"t":-2.2,"p":12825.1,"g":4.2,"r":30.8},{"t":-2.2,"p":12824.4,"g":-2.2,"r":-0.3}],
"levels":[{"t":-2.2,"t2":610.5,"p":13153.9},{"t":-2.2,"t2":610.5,"p":13068.7},{"t":-2.2,"t2":610.5,"p":12972.6},{"t":-2.2,"t2":610.5,"p":12892.6},{"t":-2.2,"t2":610.5,"p":12848.6}],
"arrows":[{"a":"up","n":1,"t":556.9,"p":12895.1},{"a":"up","n":2,"t":561.9,"p":12908.6},{"a":"up","n":3,"t":566.4,"p":12928.1},{"a":"up","n":4,"t":569.7,"p":12951.4},{"a":"up","n":5,"t":571.6,"p":12966.1},
{"a":"curve","n":1,"t":557.3,"p":12820},{"a":"curve","n":2,"t":561.9,"p":12813.1},{"a":"curve","n":3,"t":567.5,"p":12809},{"a":"curve","n":4,"t":573.1,"p":12813.1},{"a":"curve","n":5,"t":576.9,"p":12822.9},{"a":"curve","n":6,"t":580.3,"p":12842.5},{"a":"curve","n":7,"t":582.5,"p":12876.7},{"a":"curve","n":8,"t":583.3,"p":12920.8},{"a":"curve","n":9,"t":583.1,"p":12960},
{"a":"down","n":1,"t":561.6,"p":12849.3},{"a":"down","n":2,"t":568.6,"p":12838.8},{"a":"down","n":3,"t":575.3,"p":12824.1},{"a":"down","n":4,"t":580.3,"p":12808.2},{"a":"down","n":5,"t":583.9,"p":12793}],
"heads":[{"a":"up","n":1,"t":570.3,"p":12962.4},{"a":"up","n":2,"t":571.6,"p":12966.8},{"a":"up","n":3,"t":572.5,"p":12961.9},{"a":"curve","n":1,"t":581.9,"p":12955.5},{"a":"curve","n":2,"t":583.1,"p":12960},{"a":"curve","n":3,"t":583.9,"p":12955.5},{"a":"down","n":1,"t":582.2,"p":12795.5},{"a":"down","n":2,"t":584.2,"p":12792.3},{"a":"down","n":3,"t":583.6,"p":12798.4}],
"button":[{"a":"tri","n":1,"t":600.6,"p":13353.9},{"a":"tri","n":2,"t":605.8,"p":13346},{"a":"tri","n":3,"t":600.6,"p":13338.7},{"a":"tri","n":4,"t":600.6,"p":13353.9},{"a":"box","n":1,"t":606.3,"p":13353.9},{"a":"box","n":2,"t":607.4,"p":13353.9},{"a":"box","n":3,"t":607.4,"p":13338.7},{"a":"box","n":4,"t":606.3,"p":13338.7},{"a":"box","n":5,"t":606.3,"p":13353.9}]
},
"vconcat":[
{"width":1839,"height":774,
"encoding":{"x":{"field":"t","type":"quantitative","title":null,"scale":{"domain":[-2.5,610.5],"nice":false,"zero":false,"padding":0},"axis":null}},
"layer":[
{"data":{"name":"profile"},"mark":{"type":"rule","stroke":"#ffcccc","strokeWidth":1},"encoding":{"x2":{"field":"r"},"y":{"field":"p","type":"quantitative","title":null,"scale":{"domain":[12789.5,13357.56],"nice":false,"zero":false},"axis":{"orient":"right","values":[12800,12850,12900,12950,13000,13050,13100,13150,13200,13250,13300,13350],"labelExpr":"'1,'+slice(format(datum.value,'d'),1)","tickSize":6,"tickCount":20,"labelPadding":2,"labelOverlap":false}}}},
{"data":{"name":"profile"},"mark":{"type":"rule","stroke":"#ccffcc","strokeWidth":1},"encoding":{"x2":{"field":"g"},"y":{"field":"p","type":"quantitative","title":null}}},
{"data":{"name":"levels"},"mark":{"type":"rule","stroke":"#0000ff","strokeWidth":1},"encoding":{"x2":{"field":"t2"},"y":{"field":"p","type":"quantitative","title":null}}},
{"data":{"name":"bars"},"mark":{"type":"rule","stroke":"#000","strokeWidth":1},"encoding":{"y":{"field":"l","type":"quantitative","title":null},"y2":{"field":"h"}}},
{"data":{"name":"bars"},"mark":{"type":"bar","size":2,"stroke":"#000","strokeWidth":1},"encoding":{"y":{"field":"o","type":"quantitative","title":null},"y2":{"field":"c"},"fill":{"condition":{"test":"datum.c<datum.o","value":"#ff0000"},"value":"#d3d3d3"}}},
{"data":{"name":"arrows"},"mark":{"type":"line","interpolate":"cardinal","stroke":"#888","strokeWidth":6,"opacity":0.22,"xOffset":5,"yOffset":5},"encoding":{"y":{"field":"p","type":"quantitative","title":null},"detail":{"field":"a"},"order":{"field":"n"}}},
{"data":{"name":"arrows"},"mark":{"type":"line","interpolate":"cardinal","stroke":"#888","strokeWidth":3,"opacity":0.3,"xOffset":5,"yOffset":5},"encoding":{"y":{"field":"p","type":"quantitative","title":null},"detail":{"field":"a"},"order":{"field":"n"}}},
{"data":{"name":"arrows"},"mark":{"type":"line","interpolate":"cardinal","stroke":"#c0503c","strokeWidth":2.2},"encoding":{"y":{"field":"p","type":"quantitative","title":null},"detail":{"field":"a"},"order":{"field":"n"}}},
{"data":{"name":"heads"},"mark":{"type":"line","stroke":"#c0503c","strokeWidth":2.2},"encoding":{"y":{"field":"p","type":"quantitative","title":null},"detail":{"field":"a"},"order":{"field":"n"}}},
{"data":{"name":"button"},"mark":{"type":"line","stroke":"#000","strokeWidth":1},"encoding":{"y":{"field":"p","type":"quantitative","title":null},"detail":{"field":"a"},"order":{"field":"n"}}},
{"data":{"values":[{"t":-1.5,"p":13352.4,"label":"GomVolumeProfile(6E 06-13 (60 Min),1,False,True,80), ToolbarShortcut(6E 06-13 (60 Min),True,True,True,True,True)"}]},"mark":{"type":"text","align":"left","baseline":"middle","color":"#000","font":"Liberation Sans","fontSize":11},"encoding":{"y":{"field":"p","type":"quantitative","title":null},"text":{"field":"label"}}},
{"data":{"values":[{"t":-2.5,"t2":629,"p":12789.1}]},"mark":{"type":"rule","stroke":"#000","strokeWidth":1},"encoding":{"x2":{"field":"t2"},"y":{"field":"p","type":"quantitative","title":null}}},
{"data":{"values":[{"t":612.8,"t2":625.2,"p":12841.6,"p2":12832}]},"mark":{"type":"rect","fill":"#000"},"encoding":{"x2":{"field":"t2"},"y":{"field":"p","type":"quantitative","title":null},"y2":{"field":"p2"}}},
{"data":{"values":[{"t":612,"p":12837}]},"mark":{"type":"point","shape":"triangle-left","filled":true,"fill":"#000","stroke":"#000","size":70,"opacity":1},"encoding":{"y":{"field":"p","type":"quantitative","title":null}}},
{"data":{"values":[{"t":613.5,"p":12837,"label":"1,2837"}]},"mark":{"type":"text","align":"left","baseline":"middle","color":"#fff","font":"Liberation Sans","fontSize":11},"encoding":{"y":{"field":"p","type":"quantitative","title":null},"text":{"field":"label"}}}
]},
{"width":1839,"height":175,
"encoding":{"x":{"field":"t","type":"quantitative","title":null,"scale":{"domain":[-2.5,610.5],"nice":false,"zero":false,"padding":0},"axis":{"orient":"bottom","values":[14.83,37.83,60.83,83.83,106.83,129.83,152.83,175.83,198.83,221.83,244.83,267.83,291.83,314.83,337.83,360.83,383.83,406.83,429.83,452.83,475.83,498.83,521.83,544.83,567.83,590.83],"labelExpr":"{'15':'2/22','38':'2/23','61':'2/26','84':'2/27','107':'2/28','130':'3/1','153':'3/2','176':'3/5','199':'3/6','222':'3/7','245':'3/8','268':'3/9','292':'3/12','315':'3/13','338':'3/14','361':'3/15','384':'3/16','407':'3/19','430':'3/20','453':'3/21','476':'3/22','499':'3/23','522':'3/26','545':'3/27','568':'3/28','591':'3/29'}[''+round(datum.value+0.17)]","tickSize":3,"tickCount":50,"labelPadding":3,"labelOverlap":false}}},
"layer":[
{"data":{"name":"bars"},"mark":{"type":"bar","size":2,"fill":"#0000ff","xOffset":-0.5},"encoding":{"y":{"field":"v","type":"quantitative","stack":null,"title":null,"scale":{"domain":[-7.6,129.4],"nice":false,"zero":false},"axis":{"orient":"right","values":[0,20,40,60,80,100,120],"labelExpr":"datum.value>=100?datum.value+'K':format(datum.value*1000,'d')","tickSize":6,"tickCount":10,"labelPadding":2,"labelOverlap":false}}}},
{"data":{"values":[{"t":-2.2,"t2":610.5,"v":-0.15}]},"mark":{"type":"rule","stroke":"#a0a0a0","strokeWidth":1},"encoding":{"x2":{"field":"t2"},"y":{"field":"v","type":"quantitative","title":null}}},
{"data":{"values":[{"t":-1.5,"v":115.3,"label":"VOL(6E 06-13 (60 Min))"},{"t":-1.83,"v":-2.9,"label":"© 2013 NinjaTrader, LLC"}]},"mark":{"type":"text","align":"left","baseline":"middle","color":"#000","font":"Liberation Sans","fontSize":11},"encoding":{"y":{"field":"v","type":"quantitative","title":null},"text":{"field":"label"}}},
{"data":{"values":[{"t":612.8,"t2":624.2,"v":15.9,"v2":5.95}]},"mark":{"type":"rect","fill":"#0000ff","stroke":"#000","strokeWidth":1},"encoding":{"x2":{"field":"t2"},"y":{"field":"v","type":"quantitative","title":null},"y2":{"field":"v2"}}},
{"data":{"values":[{"t":612,"v":11.1}]},"mark":{"type":"point","shape":"triangle-left","filled":true,"fill":"#0000ff","stroke":"#000","size":70,"opacity":1},"encoding":{"y":{"field":"v","type":"quantitative","title":null}}},
{"data":{"values":[{"t":613.5,"v":11.1,"label":"11064"}]},"mark":{"type":"text","align":"left","baseline":"middle","color":"#fff","font":"Liberation Sans","fontSize":11},"encoding":{"y":{"field":"v","type":"quantitative","title":null},"text":{"field":"label"}}}
]}
]}
